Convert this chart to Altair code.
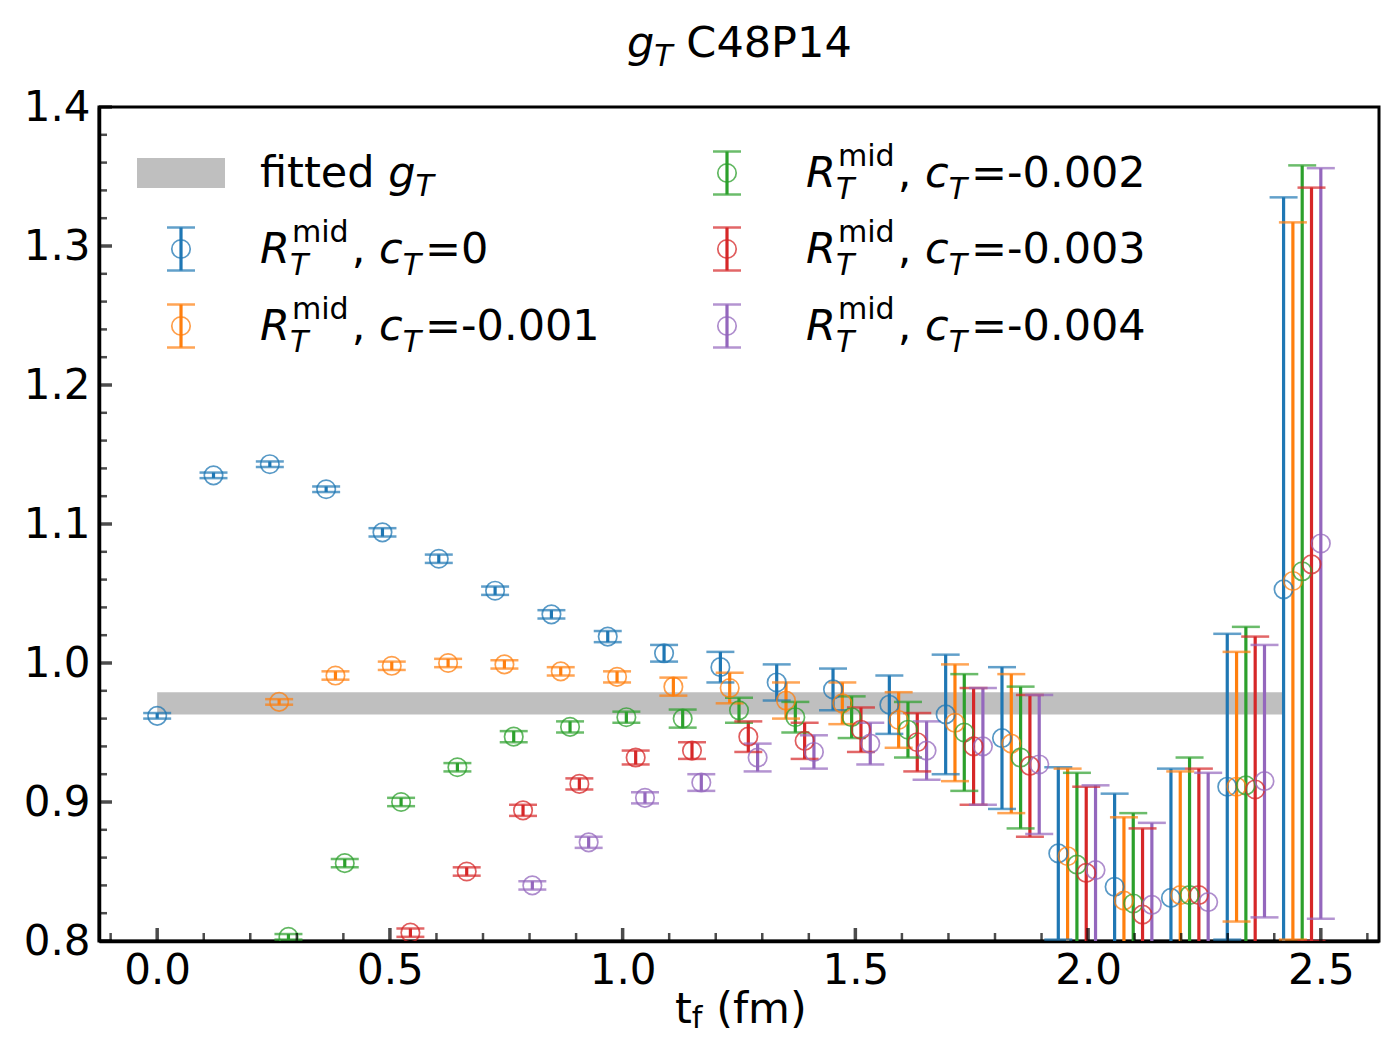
import altair as alt
import pandas as pd

# ---------------- data ----------------
A_FM = 0.121      # spacing of t_f values (fm)
SHIFT = 0.02      # horizontal shift between the c_T series
n_vals = list(range(21))

series_names = ["c_T=0", "c_T=-0.001", "c_T=-0.002", "c_T=-0.003", "c_T=-0.004"]
series_values = ["0", "-0.001", "-0.002", "-0.003", "-0.004"]
series_colors = ["#1f77b4", "#ff7f0e", "#2ca02c", "#d62728", "#9467bd"]

blue_y = [0.962, 1.135, 1.143, 1.125, 1.094, 1.075, 1.052, 1.035, 1.019, 1.007,
          0.997, 0.986, 0.981, 0.970, 0.963, 0.946, 0.863, 0.839, 0.831, 0.911, 1.053]
blue_err = [0.002, 0.002, 0.002, 0.002, 0.003, 0.003, 0.003, 0.003, 0.004, 0.006,
            0.011, 0.013, 0.015, 0.021, 0.043, 0.051, 0.062, 0.067, 0.093, 0.110, 0.282]

orange_y = [None, None, 0.972, 0.991, 0.998, 1.000, 0.999, 0.994, 0.990, 0.983,
            0.982, 0.973, 0.971, 0.959, 0.957, 0.942, 0.861, 0.829, 0.833, 0.911, 1.059]
orange_err = [None, None, 0.002, 0.003, 0.003, 0.003, 0.003, 0.003, 0.004, 0.0065,
              0.011, 0.013, 0.015, 0.020, 0.042, 0.050, 0.063, 0.060, 0.089, 0.097, 0.258]

green_y = [None, None, 0.803, 0.856, 0.900, 0.925, 0.947, 0.954, 0.961, 0.960,
           0.966, 0.961, 0.961, 0.952, 0.950, 0.932, 0.855, 0.827, 0.833, 0.912, 1.066]
green_err = [None, None, 0.002, 0.003, 0.003, 0.003, 0.004, 0.004, 0.004, 0.0065,
             0.009, 0.011, 0.015, 0.020, 0.042, 0.051, 0.066, 0.065, 0.099, 0.114, 0.292]

red_y = [None, None, None, None, 0.806, 0.850, 0.894, 0.913, 0.932, 0.937,
         0.947, 0.944, 0.952, 0.943, 0.940, 0.926, 0.849, 0.819, 0.833, 0.909, 1.071]
red_err = [None, None, None, None, 0.003, 0.003, 0.004, 0.004, 0.005, 0.006,
           0.011, 0.013, 0.016, 0.021, 0.042, 0.051, 0.062, 0.062, 0.091, 0.110, 0.271]

purple_y = [None, None, None, None, None, None, 0.840, 0.871, 0.903, 0.914,
            0.932, 0.936, 0.942, 0.937, 0.940, 0.927, 0.851, 0.826, 0.828, 0.915, 1.086]
purple_err = [None, None, None, None, None, None, 0.003, 0.004, 0.004, 0.006,
              0.010, 0.012, 0.015, 0.021, 0.042, 0.050, 0.061, 0.059, 0.093, 0.098, 0.270]

fit_center = 0.971
fit_err = 0.008
fit_x_range = [0.0, 2.42]

x_major = [0.0, 0.5, 1.0, 1.5, 2.0, 2.5]
y_major = [0.8, 0.9, 1.0, 1.1, 1.2, 1.3, 1.4]

# ---------------- tables ----------------
all_y = [blue_y, orange_y, green_y, red_y, purple_y]
all_e = [blue_err, orange_err, green_err, red_err, purple_err]
rows = []
for k, name in enumerate(series_names):
    for n, yv, ev in zip(n_vals, all_y[k], all_e[k]):
        if yv is None:
            continue
        rows.append({"series": name, "order": k, "x": n * A_FM + k * SHIFT,
                     "y": yv, "lo": yv - ev, "hi": yv + ev})
df = pd.DataFrame(rows)

band_df = pd.DataFrame({"x0": [fit_x_range[0]], "x1": [fit_x_range[1]],
                        "lo": [fit_center - fit_err], "hi": [fit_center + fit_err]})

W, H = 1280, 834
PL, PT = 99, 107
FONT = "DejaVu Sans"
F = 42     # tick labels
FT = 43    # title / legend / axis label

xs = alt.Scale(domain=[-0.125, 2.625], nice=False, zero=False)
ys = alt.Scale(domain=[0.8, 1.4], nice=False, zero=False)
xaxis = alt.Axis(values=x_major, format=".1f", ticks=False, grid=False, domain=True,
                 domainColor="black", domainWidth=3.5, labelFont=FONT, labelFontSize=F,
                 labelColor="black", labelPadding=9, labelOverlap=False, labelFlush=False,
                 title=None)
yaxis = alt.Axis(values=y_major, format=".1f", ticks=False, grid=False, domain=True,
                 domainColor="black", domainWidth=3.5, labelFont=FONT, labelFontSize=F,
                 labelColor="black", labelPadding=9, labelOverlap=False, labelFlush=False,
                 title=None)
color = alt.Color("series:N", scale=alt.Scale(domain=series_names, range=series_colors),
                  legend=None)


def X(field):
    return alt.X(field, type="quantitative", scale=xs, axis=xaxis)


def Y(field):
    return alt.Y(field, type="quantitative", scale=ys, axis=yaxis)


band = alt.Chart(band_df).mark_rect(color="#bfbfbf").encode(
    x=X("x0"), x2="x1", y=Y("lo"), y2="hi")

bars = alt.Chart(df).mark_rule(strokeWidth=3.2, clip=True).encode(
    x=X("x"), y=Y("lo"), y2="hi", color=color, order="order:Q")
caps_lo = alt.Chart(df).mark_tick(orient="horizontal", size=28, thickness=2.5, clip=True).encode(
    x=X("x"), y=Y("lo"), color=color)
caps_hi = alt.Chart(df).mark_tick(orient="horizontal", size=28, thickness=2.5, clip=True).encode(
    x=X("x"), y=Y("hi"), color=color)
pts = alt.Chart(df).mark_point(shape="circle", filled=False, size=340, strokeWidth=1.7,
                               opacity=0.75, clip=True).encode(
    x=X("x"), y=Y("y"), color=color)

# inward ticks
x_minor = [round(-0.1 + 0.1 * i, 1) for i in range(28)]
x_minor = [v for v in x_minor if abs(v * 2 - round(v * 2)) > 1e-6]
y_minor = [round(0.8 + 0.02 * i, 2) for i in range(31)]
y_minor = [v for v in y_minor if abs(v * 10 - round(v * 10)) > 1e-6]

xt_maj = alt.Chart(pd.DataFrame({"t": x_major})).mark_tick(
    orient="vertical", size=13, thickness=3.5, yOffset=-6.5, color="black").encode(
    x=X("t"), y=alt.value(H))
xt_min = alt.Chart(pd.DataFrame({"t": x_minor})).mark_tick(
    orient="vertical", size=8, thickness=2.5, yOffset=-4, color="black").encode(
    x=X("t"), y=alt.value(H))
yt_maj = alt.Chart(pd.DataFrame({"t": y_major})).mark_tick(
    orient="horizontal", size=13, thickness=3.5, xOffset=6.5, color="black").encode(
    y=Y("t"), x=alt.value(0))
yt_min = alt.Chart(pd.DataFrame({"t": y_minor})).mark_tick(
    orient="horizontal", size=8, thickness=2.5, xOffset=4, color="black").encode(
    y=Y("t"), x=alt.value(0))

# ---------------- rich text (title, x label, legend) ----------------
ADV = {"R": 0.695, "m": 0.974, "i": 0.278, "d": 0.635, ",": 0.318, " ": 0.318,
       "c": 0.550, "T": 0.611, "=": 0.838, "-": 0.361, ".": 0.318, "f": 0.352,
       "t": 0.392, "e": 0.615, "g": 0.635, "(": 0.390, ")": 0.390, "C": 0.698,
       "P": 0.603}


def width(s, size):
    return sum(ADV.get(ch, 0.636) for ch in s) * size


pieces = []  # px, py (image pixels), text, size, italic


def add(px, py, txt, size, italic):
    pieces.append({"px": px - PL, "py": py - PT, "txt": txt, "fs": size, "it": italic})


S = 0.7 * FT
SP = width(" ", FT)

# title: g_T C48P14
x0, b = 627, 57
add(x0, b, "g", FT, 1)
x0 += width("g", FT)
add(x0, b + 9, "T", S, 1)
x0 += width("T", S) + SP
add(x0, b, "C48P14", FT, 0)

# x label: t_f (fm)
x0, b = 675, 1023
add(x0, b, "t", FT, 0)
x0 += width("t", FT)
add(x0, b + 5, "f", S, 0)
x0 += width("f", S) + SP
add(x0, b, "(fm)", FT, 0)

# legend
row_c = [173, 249, 326]
col_marker = [181, 727]
col_text = [260, 806]
legend_pos = [(0, 1), (0, 2), (1, 0), (1, 1), (1, 2)]

add(col_text[0], row_c[0] + 14, "fitted", FT, 0)
xg = col_text[0] + width("fitted", FT) + SP
add(xg, row_c[0] + 14, "g", FT, 1)
add(xg + width("g", FT), row_c[0] + 23, "T", S, 1)

mk_rows = []
for k, (col, r) in enumerate(legend_pos):
    cy = row_c[r]
    b = cy + 14
    x0 = col_text[col]
    add(x0, b, "R", FT, 1)
    xr = x0 + width("R", FT)
    add(xr + 2, b - 21, "mid", S, 0)
    add(xr, b + 12, "T", S, 1)
    x1 = xr + 2 + width("mid", S) + 3
    add(x1, b, ",", FT, 0)
    x1 += width(", ", FT)
    add(x1, b, "c", FT, 1)
    x1 += width("c", FT)
    add(x1, b + 12, "T", S, 1)
    x1 += width("T", S) + 4
    add(x1, b, "=" + series_values[k], FT, 0)
    mk_rows.append({"series": series_names[k], "mx": col_marker[col] - PL,
                    "my": cy - PT, "mlo": cy - 21.5 - PT, "mhi": cy + 21.5 - PT})

tx = pd.DataFrame(pieces)
mk = pd.DataFrame(mk_rows)

PX = alt.X("px:Q", scale=None, axis=None)
PY = alt.Y("py:Q", scale=None, axis=None)
txt_up = alt.Chart(tx).transform_filter("datum.it == 0").mark_text(
    align="left", baseline="alphabetic", font=FONT, color="black").encode(
    x=PX, y=PY, text="txt:N", size=alt.Size("fs:Q", scale=None, legend=None))
txt_it = alt.Chart(tx).transform_filter("datum.it == 1").mark_text(
    align="left", baseline="alphabetic", font=FONT, fontStyle="italic", color="black").encode(
    x=PX, y=PY, text="txt:N", size=alt.Size("fs:Q", scale=None, legend=None))

MX = alt.X("mx:Q", scale=None, axis=None)
leg_patch = alt.Chart(pd.DataFrame({"a": [137 - PL], "b": [225 - PL],
                                    "c": [158 - PT], "d": [188 - PT]})).mark_rect(
    color="#bfbfbf").encode(x=alt.X("a:Q", scale=None, axis=None), x2="b",
                           y=alt.Y("c:Q", scale=None, axis=None), y2="d")
leg_bar = alt.Chart(mk).mark_rule(strokeWidth=3.2).encode(
    x=MX, y=alt.Y("mlo:Q", scale=None, axis=None), y2="mhi", color=color)
leg_cap1 = alt.Chart(mk).mark_tick(orient="horizontal", size=28, thickness=2.5).encode(
    x=MX, y=alt.Y("mlo:Q", scale=None, axis=None), color=color)
leg_cap2 = alt.Chart(mk).mark_tick(orient="horizontal", size=28, thickness=2.5).encode(
    x=MX, y=alt.Y("mhi:Q", scale=None, axis=None), color=color)
leg_pt = alt.Chart(mk).mark_point(shape="circle", filled=False, size=340, strokeWidth=1.7,
                                  opacity=0.75).encode(
    x=MX, y=alt.Y("my:Q", scale=None, axis=None), color=color)

chart = alt.layer(
    band, bars, caps_lo, caps_hi, pts,
    xt_maj, xt_min, yt_maj, yt_min,
    leg_patch, leg_bar, leg_cap1, leg_cap2, leg_pt,
    txt_up, txt_it,
).properties(
    width=W, height=H,
    autosize=alt.AutoSizeParams(type="none"),
    padding={"left": PL, "top": PT, "right": 1384 - PL - W, "bottom": 1038 - PT - H},
    background="white",
).configure_view(stroke="black", strokeWidth=3)

chart.save("out.html", embed_options={"renderer": "svg", "actions": False})
